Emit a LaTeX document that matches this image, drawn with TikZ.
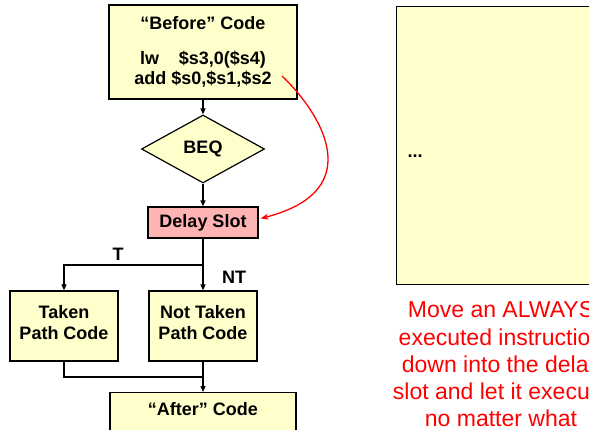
\documentclass[tikz,border=0pt]{standalone}
\usepackage{fontspec}
\setmainfont{Liberation Sans}
\usepackage[HTML]{xcolor}
\usetikzlibrary{positioning, arrows, arrows.meta, shapes.geometric}
\definecolor{codefill}{HTML}{FFFFCC}
\definecolor{slotfill}{HTML}{FFB3B3}

\begin{document}
\begin{tikzpicture}[x=1pt,y=-1pt,
  box/.style={draw,line width=1.2pt,fill=codefill,align=center,inner sep=0pt,
    font=\fontsize{18}{21}\selectfont\bfseries},
  lbl/.style={font=\fontsize{18}{21}\selectfont\bfseries},
  flow/.style={line width=1.3pt,-{Triangle[length=6pt,width=5pt]}},
  note/.style={text=red,align=center,inner sep=0pt,font=\fontsize{23}{27.3}\selectfont}]
\useasboundingbox (0,0) rectangle (589,430);
\clip (0,0) rectangle (589,430);

% flow chart on the left
\node[box,minimum width=188pt,minimum height=94pt,font=\fontsize{18}{20}\selectfont\bfseries] (before) at (203,52)
  {“Before” Code\\[15pt] lw\hspace{1.1em}\$s3,0(\$s4)\\ add \$s0,\$s1,\$s2};
\node[box,diamond,aspect=1.8,minimum width=123pt,minimum height=68pt] (beq) at (203,149) {BEQ};
\node[box,fill=slotfill,minimum width=110pt,minimum height=31pt] (slot) at (203,222.5) {Delay Slot};
\node[box,minimum width=108pt,minimum height=70pt,text depth=7pt] (taken) at (64,326) {Taken\\Path Code};
\node[box,minimum width=108pt,minimum height=70pt,text depth=7pt] (nottaken) at (203,326) {Not Taken\\Path Code};
\node[box,minimum width=186pt,text height=23pt,text depth=50pt,anchor=north] (after) at (203,392) {“After” Code};

\coordinate (split) at (203,265);
\coordinate (merge) at (203,377);
\draw[flow] (before.south) -- (beq.north);
\draw[flow] (beq.south) -- (slot.north);
\draw[flow] (slot.south) -- (nottaken.north);
\draw[flow] (split) -| (taken.north);
\draw[line width=1.3pt] (taken.south) |- (merge);
\draw[flow] (nottaken.south) -- (after.north);
\node[lbl] (tlab) at (118,254) {T};
\node[lbl] (ntlab) at (234,277) {NT};

% the moved instruction
\coordinate (movefrom) at (282,76);
\draw[red,line width=1.3pt,-{Stealth[length=8pt,width=6pt]}]
  (movefrom) .. controls (318,110) and (372,190) .. ([xshift=2pt,yshift=4pt]slot.east);

% right hand side
\node[box,anchor=north west,minimum width=240pt,minimum height=278pt] (slotcode) at (396,6) {};
\node[lbl] (dots) at (415,156) {...};
\node[note,anchor=north] (note) at (501,301.5)
  {Move an ALWAYS\\executed instruction\\down into the delay\\slot and let it execute\\no matter what};
\end{tikzpicture}
\end{document}
